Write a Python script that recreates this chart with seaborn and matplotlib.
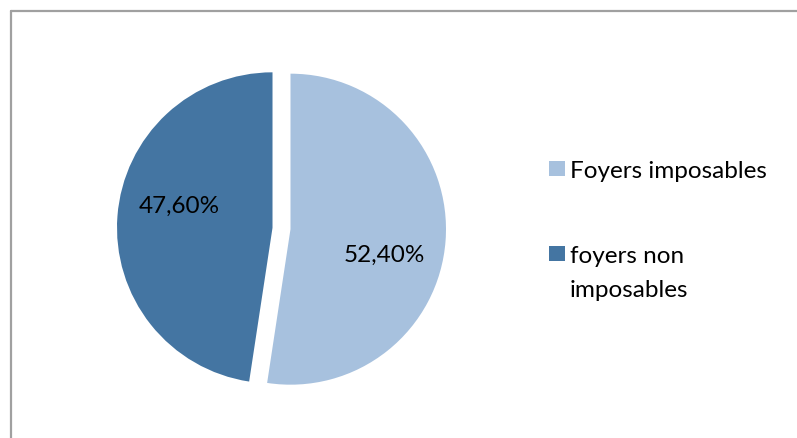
import numpy as np
import seaborn as sns
import matplotlib.pyplot as plt
from matplotlib.patches import Rectangle
from matplotlib.lines import Line2D

# data
categories = ["Foyers imposables", "foyers non imposables"]
legend_labels = [["Foyers imposables"], ["foyers non", "imposables"]]
shares = [52.40, 47.60]
colors = ["#A7C1DE", "#4475A2"]

sns.set_theme(style="white")
plt.rcParams['font.family'] = ['Lato', 'DejaVu Sans']

W, H = 797, 438
fig = plt.figure(figsize=(W / 100, H / 100), dpi=100)
fig.patch.set_facecolor("white")

# pie axes: square in pixels, centred at (281.5, 228.5), radius 155.5 px
r_px = 155.5
lim = 1.2
side = 2 * lim * r_px
cx, cy = 281.5, 228.5
ax = fig.add_axes([(cx - side / 2) / W, (H - cy - side / 2) / H, side / W, side / H])

wedges, _ = ax.pie(
    shares,
    colors=colors,
    startangle=90,
    counterclock=False,
    explode=[0.058, 0.058],
    radius=1,
    wedgeprops=dict(linewidth=0),
)
ax.set_xlim(-lim, lim)
ax.set_ylim(-lim, lim)
ax.axis("off")

# percentage labels, Excel-style best-fit placement
for w, v in zip(wedges, shares):
    theta = np.deg2rad((w.theta1 + w.theta2) / 2 - 10)
    x = w.center[0] + 0.62 * np.cos(theta)
    y = w.center[1] + 0.62 * np.sin(theta)
    ax.text(x, y, f"{v:.2f}%".replace(".", ","), ha="center",
            va="center_baseline", fontsize=17.5, color="black")

# legend drawn by hand to keep the marker on the first line
box_rows = [168.5, 253.5]
baselines = [178, 263]
line_step = 34
for col, lines, yc, yb in zip(colors, legend_labels, box_rows, baselines):
    fig.patches.append(Rectangle((549 / W, (H - yc - 7.5) / H), 16 / W, 15 / H,
                                 transform=fig.transFigure, facecolor=col,
                                 edgecolor="none"))
    for i, txt in enumerate(lines):
        fig.text(570 / W, (H - yb - i * line_step) / H, txt, ha="left",
                 va="baseline", fontsize=17.5, color="black",
                 transform=fig.transFigure)

# chart border (top and left visible)
fig.lines.append(Line2D([10.5 / W, 10.5 / W], [0, 1 - 10.5 / H], transform=fig.transFigure,
                        color="#A0A0A0", linewidth=1.6))
fig.lines.append(Line2D([10.5 / W, 1], [1 - 10.5 / H, 1 - 10.5 / H], transform=fig.transFigure,
                        color="#A0A0A0", linewidth=1.6))

fig.savefig("out.png", dpi=100)
